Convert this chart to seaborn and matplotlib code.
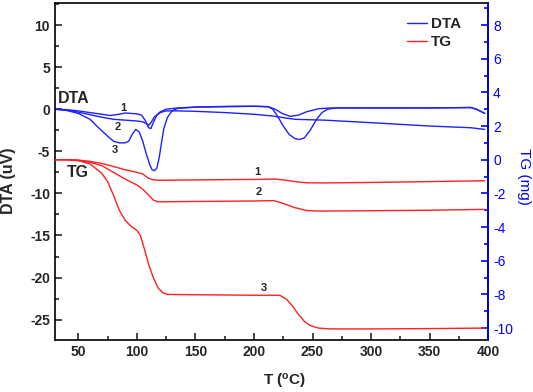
import matplotlib
matplotlib.use('Agg')
import matplotlib.pyplot as plt
from matplotlib.ticker import MultipleLocator
from matplotlib.lines import Line2D
import seaborn as sns

# DTA curves (uV)
dta1_t = [30, 40, 50, 60, 70, 77, 85, 90, 95, 100, 104, 107, 110, 112, 114, 117, 120, 125, 135, 150, 180, 200, 212,
          218, 224, 231, 238, 245, 255, 265, 300, 350, 385, 390, 397]
dta1_v = [0, -0.05, -0.2, -0.4, -0.6, -0.75, -0.6, -0.45, -0.5, -0.55, -0.7, -1.3, -2.2, -2.3, -1.6, -0.7, -0.3, 0.0,
          0.15, 0.25, 0.3, 0.35, 0.3, 0.0, -0.5, -0.85, -0.7, -0.3, 0.05, 0.15, 0.15, 0.15, 0.2, 0.0, -0.5]

dta2_t = [30, 40, 50, 60, 70, 80, 90, 100, 105, 108, 110, 112, 115, 120, 125, 135, 150, 175, 200, 215, 225, 235, 260,
          300, 350, 385, 397]
dta2_v = [0, -0.1, -0.35, -0.65, -0.95, -1.2, -1.3, -1.4, -1.5, -1.7, -1.9, -1.6, -0.9, -0.4, -0.2, -0.2, -0.25, -0.4,
          -0.6, -0.8, -1.0, -1.2, -1.3, -1.6, -2.0, -2.2, -2.4]

dta3_t = [30, 40, 50, 60, 68, 75, 80, 85, 90, 93, 96, 99, 102, 105, 108, 111, 113, 115, 117, 119, 121, 123, 126, 130,
          135, 150, 180, 200, 212, 216, 220, 225, 230, 235, 239, 243, 248, 253, 258, 263, 270, 300, 350, 385, 390, 397]
dta3_v = [0, -0.15, -0.5, -1.2, -2.3, -3.2, -3.8, -4.0, -4.0, -3.8, -3.0, -2.4, -2.7, -3.8, -5.3, -6.6, -7.2, -7.3,
          -7.0, -5.8, -4.0, -2.3, -1.0, -0.2, 0.1, 0.25, 0.35, 0.35, 0.3, 0.0, -0.8, -2.0, -3.0, -3.5, -3.6, -3.4,
          -2.5, -1.3, -0.4, 0.0, 0.15, 0.15, 0.15, 0.2, 0.0, -0.5]

# TG curves (mg)
tg1_t = [30, 40, 50, 60, 70, 80, 90, 100, 105, 110, 114, 120, 150, 200, 218, 225, 235, 245, 260, 300, 350, 397]
tg1_v = [0, 0, -0.02, -0.1, -0.22, -0.4, -0.6, -0.75, -0.85, -1.1, -1.2, -1.22, -1.2, -1.17, -1.15, -1.2, -1.3,
         -1.37, -1.38, -1.35, -1.3, -1.25]

tg2_t = [30, 40, 50, 60, 70, 80, 90, 100, 105, 110, 114, 118, 150, 200, 217, 225, 235, 245, 255, 300, 350, 397]
tg2_v = [0, 0, -0.05, -0.15, -0.35, -0.75, -1.15, -1.5, -1.75, -2.1, -2.4, -2.5, -2.48, -2.45, -2.43, -2.6, -2.85,
         -3.02, -3.05, -3.03, -3.0, -2.95]

tg3_t = [30, 40, 50, 60, 70, 75, 80, 85, 90, 95, 100, 103, 106, 110, 114, 118, 122, 126, 150, 200, 222, 228, 233,
         238, 243, 248, 255, 265, 300, 350, 397]
tg3_v = [0, 0, -0.05, -0.25, -0.8, -1.3, -2.1, -3.0, -3.6, -3.95, -4.2, -4.5, -5.2, -6.2, -7.0, -7.6, -7.9, -8.0,
         -8.02, -8.05, -8.05, -8.3, -8.7, -9.2, -9.6, -9.85, -10.0, -10.05, -10.05, -10.03, -10.0]

sns.set_style('ticks')
plt.rcParams['font.family'] = ['Liberation Sans', 'DejaVu Sans']
plt.rcParams['axes.unicode_minus'] = False

fig = plt.figure(figsize=(5.33, 3.92), dpi=100)
ax = fig.add_axes([0.103, 0.133, 0.813, 0.859])
ax2 = ax.twinx()

for t, v in [(dta1_t, dta1_v), (dta2_t, dta2_v), (dta3_t, dta3_v)]:
    sns.lineplot(x=t, y=v, ax=ax, color='#2020ff', lw=1.0, sort=False)
for t, v in [(tg1_t, tg1_v), (tg2_t, tg2_v), (tg3_t, tg3_v)]:
    sns.lineplot(x=t, y=v, ax=ax2, color='#ff2020', lw=1.0, sort=False)

ax.set_xlim(30, 400)
ax.set_ylim(-27.4, 12.6)
ax2.set_ylim(-10.7, 9.3)

ax.xaxis.set_major_locator(MultipleLocator(50))
ax.xaxis.set_minor_locator(MultipleLocator(25))
ax.yaxis.set_major_locator(MultipleLocator(5))
ax.yaxis.set_minor_locator(MultipleLocator(2.5))
ax2.yaxis.set_major_locator(MultipleLocator(2))
ax2.yaxis.set_minor_locator(MultipleLocator(1))

ax.tick_params(which='both', direction='in', top=False, right=False, width=1.2, labelsize=10)
ax.tick_params(which='major', length=5)
ax.tick_params(which='minor', length=3)
for lab in ax.get_xticklabels() + ax.get_yticklabels():
    lab.set_fontweight('bold')

ax2.tick_params(which='both', direction='in', colors='blue', width=1.2, labelsize=10)
ax2.tick_params(which='major', length=5)
ax2.tick_params(which='minor', length=3)

for s in ax.spines.values():
    s.set_linewidth(1.2)
    s.set_color('black')
for s in ax2.spines.values():
    s.set_linewidth(1.2)
ax2.spines['right'].set_color('blue')
ax2.spines['left'].set_visible(False)
ax2.spines['top'].set_visible(False)
ax2.spines['bottom'].set_visible(False)

ax.set_xlabel('T ($\\mathregular{^{o}}$C)', fontsize=11, fontweight='bold', va='center')
ax.xaxis.set_label_coords(0.53, -0.125)
ax.set_ylabel('DTA (uV)', fontsize=11.5, fontweight='bold', va='center')
ax.yaxis.set_label_coords(-0.107, 0.472)
ax2.set_ylabel('TG (mg)', fontsize=11, color='blue', rotation=270, va='center')
ax2.yaxis.set_label_coords(1.082, 0.484)

# curve labels
ax.text(32.9, 1.3, 'DTA', fontsize=11.5, fontweight='bold', ha='left', va='center')
ax.text(40.6, -7.5, 'TG', fontsize=11.5, fontweight='bold', ha='left', va='center')
for x, y, s in [(88.4, 0.15, '1'), (84, -2.1, '2'), (81.6, -4.8, '3')]:
    ax.text(x, y, s, fontsize=8, fontweight='bold', ha='center', va='center')
for x, y, s in [(202.8, -0.73, '1'), (203.7, -1.92, '2'), (208, -7.62, '3')]:
    ax2.text(x, y, s, fontsize=8, fontweight='bold', ha='center', va='center')

handles = [Line2D([], [], color='#2020ff', lw=1.0), Line2D([], [], color='#ff2020', lw=1.0)]
ax2.legend(handles, ['DTA', 'TG'], loc='upper right', bbox_to_anchor=(0.97, 1.0), frameon=False,
           prop={'weight': 'bold', 'size': 11}, handlelength=1.3, handletextpad=0.3, labelspacing=0.3)

fig.savefig('out.png', dpi=100)
